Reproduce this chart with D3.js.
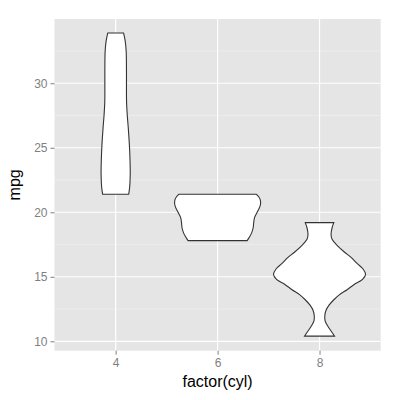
<!DOCTYPE html>
<html>
<head>
<meta charset="utf-8">
<script src="https://cdn.jsdelivr.net/npm/d3@7"></script>
<style>
  body { margin: 0; background: #fff; }
  text { font-family: "Liberation Sans", Arial, sans-serif; }
</style>
</head>
<body>
<div id="chart"></div>
<script>
// categories and ticks
var cyls = ["4", "6", "8"];
var yTicks = [10, 15, 20, 25, 30];
var yMinor = [12.5, 17.5, 22.5, 27.5, 32.5];

// violin outlines: [mpg, half width in category units]
var violin4 = [[33.9, 0.077], [33.3, 0.093], [32.5, 0.103], [31.0, 0.106], [30.0, 0.106],
               [28.5, 0.107], [27.5, 0.114], [26.5, 0.124], [25.0, 0.136], [24.0, 0.141],
               [23.0, 0.143], [22.0, 0.138], [21.4, 0.128]];
var violin6 = [[21.4, 0.378], [21.2, 0.403], [21.0, 0.417], [20.7, 0.422], [20.4, 0.413],
               [20.0, 0.388], [19.6, 0.363], [19.2, 0.354], [18.8, 0.349], [18.4, 0.334],
               [18.1, 0.314], [17.8, 0.290]];
var violin8 = [[19.2, 0.140], [18.8, 0.123], [18.3, 0.113], [17.9, 0.123], [17.4, 0.177],
               [16.9, 0.246], [16.5, 0.309], [16.0, 0.373], [15.6, 0.427], [15.2, 0.452],
               [14.8, 0.422], [14.4, 0.340], [14.0, 0.270], [13.6, 0.193], [13.2, 0.138],
               [12.8, 0.093], [12.4, 0.064], [12.0, 0.052], [11.6, 0.054], [11.2, 0.079],
               [10.8, 0.113], [10.4, 0.147]];
var violins = [violin4, violin6, violin8];

var width = 400, height = 400;
var panel = {left: 54.5, right: 380.7, top: 19, bottom: 350.7};

var svg = d3.select("#chart").append("svg")
    .attr("width", width)
    .attr("height", height);

var x = d3.scalePoint()
    .domain(cyls)
    .range([panel.left, panel.right])
    .padding(0.6);

var y = d3.scaleLinear()
    .domain([9.27, 34.98])
    .range([panel.bottom, panel.top]);

// half width -> pixels
var w = d3.scaleLinear().domain([0, 1]).range([0, x.step()]);

// panel background
svg.append("rect")
    .attr("x", panel.left)
    .attr("y", panel.top)
    .attr("width", panel.right - panel.left)
    .attr("height", panel.bottom - panel.top)
    .attr("fill", "#E5E5E5");

// grid
svg.append("g").selectAll("line")
    .data(yMinor)
    .enter().append("line")
    .attr("x1", panel.left).attr("x2", panel.right)
    .attr("y1", function(d) { return y(d); })
    .attr("y2", function(d) { return y(d); })
    .attr("stroke", "#F2F2F2")
    .attr("stroke-width", 0.6);

svg.append("g").selectAll("line")
    .data(yTicks)
    .enter().append("line")
    .attr("x1", panel.left).attr("x2", panel.right)
    .attr("y1", function(d) { return y(d); })
    .attr("y2", function(d) { return y(d); })
    .attr("stroke", "#fff")
    .attr("stroke-width", 1.2);

svg.append("g").selectAll("line")
    .data(cyls)
    .enter().append("line")
    .attr("y1", panel.top).attr("y2", panel.bottom)
    .attr("x1", function(d) { return x(d); })
    .attr("x2", function(d) { return x(d); })
    .attr("stroke", "#fff")
    .attr("stroke-width", 1.2);

// violins
var area = d3.area()
    .curve(d3.curveCatmullRom)
    .y(function(d) { return y(d[0]); });

svg.append("g").selectAll("path")
    .data(violins)
    .enter().append("path")
    .attr("d", function(d, i) {
      var cx = x(cyls[i]);
      return area
        .x0(function(p) { return cx - w(p[1]); })
        .x1(function(p) { return cx + w(p[1]); })(d);
    })
    .attr("fill", "#fff")
    .attr("stroke", "#333")
    .attr("stroke-width", 1.1);

// axes
var yAxis = svg.append("g")
    .attr("transform", "translate(" + panel.left + ",0)")
    .call(d3.axisLeft(y).tickValues(yTicks).tickSize(4).tickPadding(3));

var xAxis = svg.append("g")
    .attr("transform", "translate(0," + panel.bottom + ")")
    .call(d3.axisBottom(x).tickSize(4).tickPadding(4));

[xAxis, yAxis].forEach(function(a) {
  a.select(".domain").remove();
  a.selectAll(".tick line").attr("stroke", "#7F7F7F");
  a.selectAll(".tick text")
    .attr("fill", "#7F7F7F")
    .style("font-size", "12px")
    .style("font-family", "'Liberation Sans', Arial, sans-serif");
});

// titles
svg.append("text")
    .attr("x", (panel.left + panel.right) / 2)
    .attr("y", 387)
    .attr("text-anchor", "middle")
    .style("font-size", "16px")
    .text("factor(cyl)");

svg.append("text")
    .attr("transform", "translate(20," + ((panel.top + panel.bottom) / 2) + ") rotate(-90)")
    .attr("text-anchor", "middle")
    .style("font-size", "16px")
    .text("mpg");
</script>
</body>
</html>
